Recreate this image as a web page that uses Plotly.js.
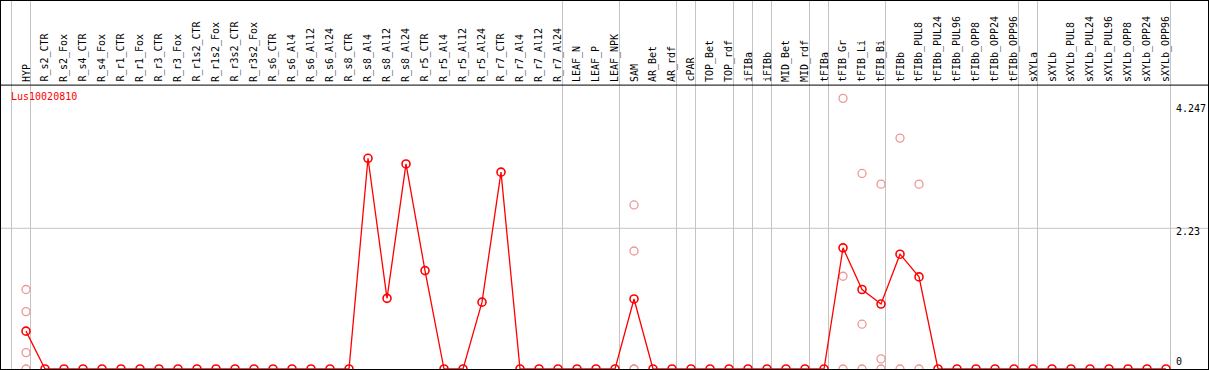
<!DOCTYPE html>
<html>
<head>
<meta charset="utf-8">
<script src="https://cdn.plot.ly/plotly-3.0.1.min.js"></script>
<style>html,body{margin:0;padding:0;background:#fff;}#chart{width:1209px;height:370px;}</style>
</head>
<body>
<div id="chart"></div>
<script>
// ---- data ----
const geneName = "Lus10020810";
const categories = ["HYP","R_s2_CTR","R_s2_Fox","R_s4_CTR","R_s4_Fox","R_r1_CTR","R_r1_Fox","R_r3_CTR","R_r3_Fox","R_r1s2_CTR","R_r1s2_Fox","R_r3s2_CTR","R_r3s2_Fox","R_s6_CTR","R_s6_Al4","R_s6_Al12","R_s6_Al24","R_s8_CTR","R_s8_Al4","R_s8_Al12","R_s8_Al24","R_r5_CTR","R_r5_Al4","R_r5_Al12","R_r5_Al24","R_r7_CTR","R_r7_Al4","R_r7_Al12","R_r7_Al24","LEAF_N","LEAF_P","LEAF_NPK","SAM","AR_Bet","AR_rdf","cPAR","TOP_Bet","TOP_rdf","iFIBa","iFIBb","MID_Bet","MID_rdf","tFIBa","tFIB_Gr","tFIB_Li","tFIB_Bi","tFIBb","tFIBb_PUL8","tFIBb_PUL24","tFIBb_PUL96","tFIBb_OPP8","tFIBb_OPP24","tFIBb_OPP96","sXYLa","sXYLb","sXYLb_PUL8","sXYLb_PUL24","sXYLb_PUL96","sXYLb_OPP8","sXYLb_OPP24","sXYLb_OPP96"];
const meanValues = [0.60,0,0,0,0,0,0,0,0,0,0,0,0,0,0,0,0,0,3.34,1.12,3.25,1.56,0,0,1.06,3.12,0,0,0,0,0,0,1.11,0,0,0,0,0,0,0,0,0,0,1.92,1.26,1.03,1.82,1.46,0,0,0,0,0,0,0,0,0,0,0,0,0];
const repCategories = ["HYP","SAM","tFIB_Gr","tFIB_Li","tFIB_Bi","tFIBb","tFIBb_PUL8"];
const repValues = [[1.26,0.91,0.26,0],[2.60,1.87,0,0],[4.29,1.47,0],[3.10,0.71,0],[2.93,0.16,0],[3.66,0],[2.93,0]];
const groupSizes = [1,28,3,3,1,2,1,1,2,1,3,7,1,7];
const tickValues = [0, 2.23, 4.247];
const tickLabels = ["0", "2.23", "4.247"];

// ---- build ----
const FONT = "DejaVu Sans Mono, monospace";
const repX = [], repY = [];
repCategories.forEach((c, i) => repValues[i].forEach(v => { repX.push(c); repY.push(v); }));

const panelTop = 4.5;   // value at top of data panel
const sepOffset = 0.237;

const shapes = [];
// group separators (start line + one after each group)
const sepPositions = [-1 + sepOffset];
let cum = 0;
groupSizes.forEach(g => { cum += g; sepPositions.push(cum - 1 + sepOffset); });
sepPositions.forEach(xs => {
  shapes.push({type:'line', xref:'x', yref:'paper', x0:xs, x1:xs, y0:0, y1:1,
    line:{color:'#c4c4c4', width:1}, layer:'below'});
});
// grid lines for inner ticks
tickValues.forEach((v, i) => {
  if (i > 0 && i < tickValues.length - 1) {
    shapes.push({type:'line', xref:'paper', yref:'y', x0:0, x1:1, y0:v, y1:v,
      line:{color:'#c4c4c4', width:1}, layer:'below'});
  }
});
// panel top line (separates label area)
shapes.push({type:'line', xref:'paper', yref:'y', x0:0, x1:1, y0:panelTop, y1:panelTop,
  line:{color:'#000', width:1}});

const annotations = [];
categories.forEach(c => {
  annotations.push({x:c, y:panelTop, xref:'x', yref:'y', text:c, showarrow:false,
    textangle:-90, xanchor:'center', yanchor:'bottom', yshift:1,
    font:{family:FONT, size:10, color:'#000'}});
});
annotations.push({x:0.0068, y:panelTop, xref:'paper', yref:'y', text:geneName, showarrow:false,
  xanchor:'left', yanchor:'top', yshift:-4, font:{family:FONT, size:10, color:'#ff0000'}});
tickValues.forEach((v, i) => {
  let anchor = 'middle', shift = -3.4;
  if (i === 0) { anchor = 'bottom'; shift = 0; }
  if (i === tickValues.length - 1) { anchor = 'top'; shift = 0; }
  annotations.push({x:0.9722, y:v, xref:'paper', yref:'y', text:tickLabels[i], showarrow:false,
    xanchor:'left', yanchor:anchor, yshift:shift, font:{family:FONT, size:10, color:'#000'}});
});

const traces = [
  {x:repX, y:repY, type:'scatter', mode:'markers', hoverinfo:'skip',
   marker:{symbol:'circle-open', size:8, color:'rgb(238,150,150)', line:{width:1.3}}},
  {x:categories, y:meanValues, type:'scatter', mode:'lines+markers', hoverinfo:'skip',
   line:{color:'#ff0000', width:1.3},
   marker:{symbol:'circle-open', size:8, color:'#ff0000', line:{width:1.6}}}
];

const layout = {
  width:1209, height:370,
  margin:{l:1, r:1, t:1, b:1, pad:0},
  paper_bgcolor:'#fff', plot_bgcolor:'#fff',
  showlegend:false,
  xaxis:{type:'category', categoryarray:categories, range:[-1.316, 62.21],
    showticklabels:false, showgrid:false, zeroline:false, ticks:'',
    showline:true, mirror:true, linecolor:'#000', linewidth:1},
  yaxis:{range:[0, 5.833], showticklabels:false, showgrid:false, zeroline:false, ticks:'',
    showline:true, mirror:true, linecolor:'#000', linewidth:1},
  shapes:shapes, annotations:annotations
};
Plotly.newPlot('chart', traces, layout, {staticPlot:true, displayModeBar:false});
</script>
</body>
</html>
